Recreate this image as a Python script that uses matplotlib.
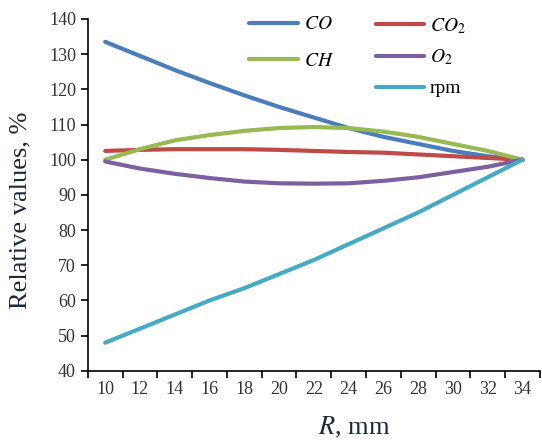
import numpy as np
import matplotlib as mpl
mpl.use('Agg')
import matplotlib.pyplot as plt

# Data
R = [10, 12, 14, 16, 18, 20, 22, 24, 26, 28, 30, 32, 34]
co = [133.5, 129.5, 125.5, 121.8, 118.3, 115.0, 112.0, 109.0, 106.5, 104.5, 102.5, 101.0, 100.0]
co2 = [102.5, 102.8, 103.0, 103.0, 103.0, 102.8, 102.5, 102.2, 102.0, 101.5, 101.0, 100.5, 100.0]
ch = [100.0, 103.0, 105.5, 107.0, 108.2, 109.0, 109.3, 109.0, 108.0, 106.5, 104.5, 102.5, 100.0]
o2 = [99.5, 97.5, 96.0, 94.8, 93.8, 93.3, 93.2, 93.3, 94.0, 95.0, 96.5, 98.0, 100.0]
rpm = [48.0, 52.0, 56.0, 60.0, 63.5, 67.5, 71.5, 76.0, 80.5, 85.0, 90.0, 95.0, 100.0]

plt.rcParams['font.family'] = ['Liberation Serif', 'DejaVu Serif']
plt.rcParams['mathtext.fontset'] = 'stix'

fig = plt.figure(figsize=(5.42, 4.41), dpi=100)
ax = fig.add_axes([0.162, 0.159, 0.834, 0.798])

lw = 3.0
l_co, = ax.plot(R, co, color='#4a7ebb', lw=lw, solid_capstyle='round')
l_co2, = ax.plot(R, co2, color='#be4b48', lw=lw, solid_capstyle='round')
l_ch, = ax.plot(R, ch, color='#98b954', lw=lw, solid_capstyle='round')
l_o2, = ax.plot(R, o2, color='#7d60a0', lw=lw, solid_capstyle='round')
l_rpm, = ax.plot(R, rpm, color='#46aac5', lw=lw, solid_capstyle='round')

ax.set_xlim(9, 35)
ax.set_ylim(40, 140)
ax.set_yticks(np.arange(40, 141, 10))
ax.set_xticks(np.arange(9, 36, 2))
ax.set_xticklabels([])
ax.set_xticks(R, minor=True)
ax.set_xticklabels([str(r) for r in R], minor=True)
ax.tick_params(axis='x', which='major', length=5, width=1.2, direction='out')
ax.tick_params(axis='x', which='minor', length=0, pad=7, labelsize=13, labelcolor='#333333')
ax.tick_params(axis='y', length=5, width=1.2, labelsize=13, labelcolor='#333333')

for s in ['top', 'right']:
    ax.spines[s].set_visible(False)
for s in ['left', 'bottom']:
    ax.spines[s].set_linewidth(1.2)

lab_col = '#1c2840'
ax.set_ylabel('Relative values, %', fontsize=19, color=lab_col)
ax.yaxis.set_label_coords(-0.124, 0.457)
ax.set_xlabel('$R$, mm', fontsize=19, color=lab_col)
ax.xaxis.set_label_coords(0.59, -0.125)

leg1 = fig.legend([l_co, l_ch], ['$CO$', '$CH$'], loc='upper left',
                  bbox_to_anchor=(0.435, 0.995), frameon=False, fontsize=14,
                  handlelength=2.5, handletextpad=0.3, labelspacing=0.95,
                  borderpad=0.2)
leg2 = fig.legend([l_co2, l_o2, l_rpm], ['$CO_2$', '$O_2$', 'rpm'], loc='upper left',
                  bbox_to_anchor=(0.668, 0.995), frameon=False, fontsize=14,
                  handlelength=2.5, handletextpad=0.3, labelspacing=0.63,
                  borderpad=0.2)

fig.savefig('out.png', dpi=100, facecolor='white')
